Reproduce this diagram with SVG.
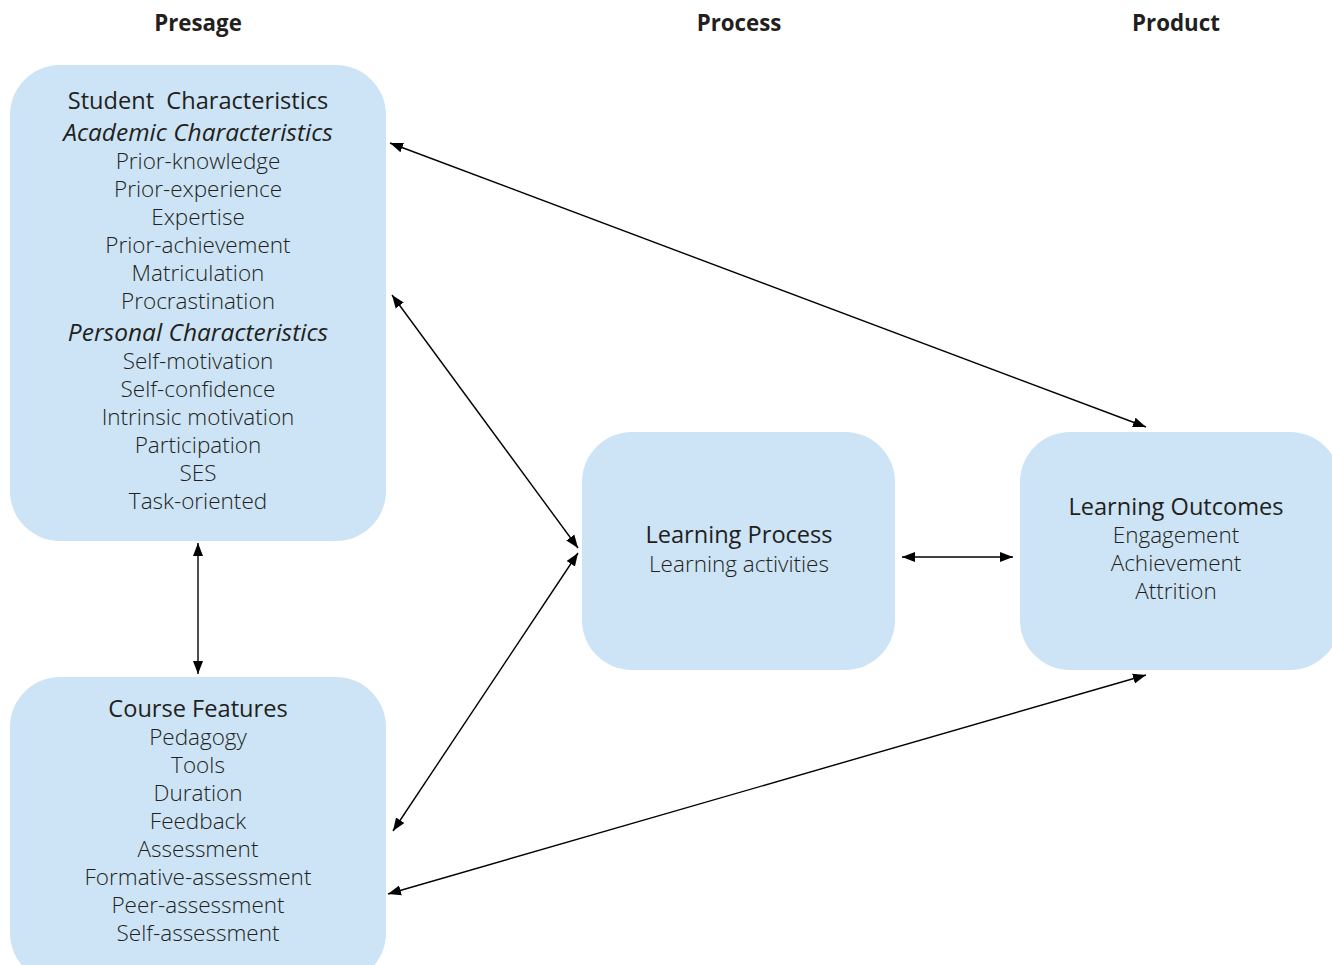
<svg xmlns="http://www.w3.org/2000/svg" width="1332" height="965" viewBox="0 0 1332 965">
<defs>
<marker id="ah" markerUnits="userSpaceOnUse" markerWidth="14" markerHeight="12" refX="13" refY="5" orient="auto-start-reverse" viewBox="0 0 14 10">
<path d="M0,0 L13,5 L0,10 Z" fill="#000"/>
</marker>
</defs>
<style>
.box{fill:#cce4f5;}
.t{font-family:"Open Sans","Noto Sans","Liberation Sans",sans-serif;font-size:22.5px;fill:#231f20;text-anchor:middle;font-weight:300;}
.h{font-weight:400;font-size:23.6px;}
.i{font-style:italic;font-weight:400;font-size:24.5px;}
.hd{font-family:"Open Sans","Noto Sans","Liberation Sans",sans-serif;font-size:22.3px;font-weight:700;fill:#231f20;text-anchor:middle;}
.c{stroke:#000;stroke-width:1.4;fill:none;marker-start:url(#ah);marker-end:url(#ah);}
</style>
<rect width="1332" height="965" fill="#fff"/>
<g id="headers">
<text class="hd" x="198" y="31">Presage</text>
<text class="hd" x="739" y="31">Process</text>
<text class="hd" x="1176" y="31">Product</text>
</g>
<g id="student">
<rect class="box" x="10" y="65" width="376" height="476" rx="50"/>
<text class="t h" x="198" y="109">Student&#160; Characteristics</text>
<text class="t i" x="198" y="141">Academic Characteristics</text>
<text class="t" x="198" y="169">Prior-knowledge</text>
<text class="t" x="198" y="197">Prior-experience</text>
<text class="t" x="198" y="225">Expertise</text>
<text class="t" x="198" y="253">Prior-achievement</text>
<text class="t" x="198" y="281">Matriculation</text>
<text class="t" x="198" y="309">Procrastination</text>
<text class="t i" x="198" y="341">Personal Characteristics</text>
<text class="t" x="198" y="369">Self-motivation</text>
<text class="t" x="198" y="397">Self-confidence</text>
<text class="t" x="198" y="425">Intrinsic motivation</text>
<text class="t" x="198" y="453">Participation</text>
<text class="t" x="198" y="481">SES</text>
<text class="t" x="198" y="509">Task-oriented</text>
</g>
<g id="course">
<rect class="box" x="10" y="677" width="376" height="306" rx="50"/>
<text class="t h" x="198" y="717">Course Features</text>
<text class="t" x="198" y="745">Pedagogy</text>
<text class="t" x="198" y="773">Tools</text>
<text class="t" x="198" y="801">Duration</text>
<text class="t" x="198" y="829">Feedback</text>
<text class="t" x="198" y="857">Assessment</text>
<text class="t" x="198" y="885">Formative-assessment</text>
<text class="t" x="198" y="913">Peer-assessment</text>
<text class="t" x="198" y="941">Self-assessment</text>
</g>
<g id="process">
<rect class="box" x="582" y="432" width="313" height="238" rx="50"/>
<text class="t h" x="739" y="543">Learning Process</text>
<text class="t" x="739" y="572">Learning activities</text>
</g>
<g id="outcomes">
<rect class="box" x="1020" y="432" width="320" height="238" rx="50"/>
<text class="t h" x="1176" y="515">Learning Outcomes</text>
<text class="t" x="1176" y="543">Engagement</text>
<text class="t" x="1176" y="571">Achievement</text>
<text class="t" x="1176" y="599">Attrition</text>
</g>
<g id="connectors">
<line class="c" x1="390" y1="143" x2="1146" y2="427"/>
<line class="c" x1="392" y1="295" x2="578" y2="548"/>
<line class="c" x1="578" y1="553" x2="393" y2="831"/>
<line class="c" x1="198" y1="543" x2="198" y2="674"/>
<line class="c" x1="902" y1="557" x2="1013" y2="557"/>
<line class="c" x1="388" y1="894" x2="1146" y2="675"/>
</g>
</svg>
